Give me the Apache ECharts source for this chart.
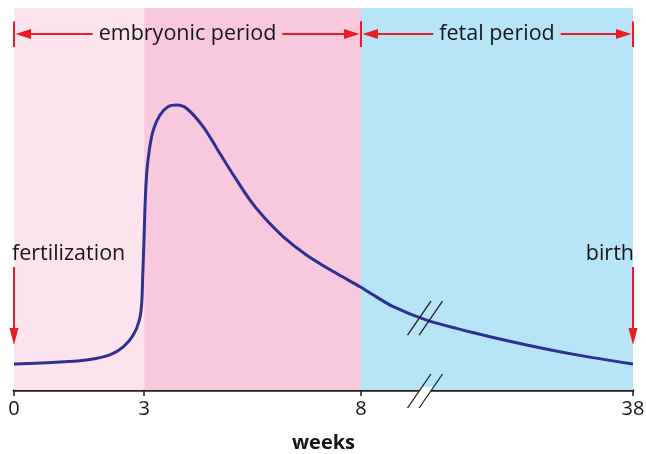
<!DOCTYPE html>
<html><head><meta charset="utf-8">
<script src="https://cdn.jsdelivr.net/npm/echarts@6/dist/echarts.min.js"></script>
<style>html,body{margin:0;padding:0;background:#fff}#c{width:646px;height:454px}</style>
</head><body><div id="c"></div>
<script>
// ---- data (weeks, relative level) ----
const weeks = [0, 1.06, 1.75, 2.21, 2.52, 2.75, 2.89, 2.944, 2.967, 2.997, 3.02, 3.059, 3.119, 3.212, 3.366, 3.557, 3.751, 3.982, 4.364, 4.673, 5.056, 5.441, 5.748, 6.209, 6.749, 7.361, 8.0, 9.0, 11.56, 15.24, 20.76, 26.28, 31.8, 38];
const level = [6.8, 7.3, 8.0, 9.2, 11.3, 14.4, 18.3, 22.7, 29.7, 39.3, 48.0, 56.7, 62.8, 68.1, 72.0, 74.2, 74.6, 73.7, 68.9, 63.3, 56.3, 49.7, 45.4, 40.1, 35.3, 31.0, 26.9, 25.4, 21.8, 18.3, 14.8, 11.8, 9.2, 6.8];
const tickWeeks = [0, 3, 8, 38];
const bandFrom = [0, 3, 8];
const bandTo = [3, 8, 38];
const bandColors = ['#fce4ef', '#f8c8de', '#b8e4f8'];
const periodNames = ['embryonic period', 'fetal period'];
const periodFrom = [0, 8];
const periodTo = [8, 38];
const eventNames = ['fertilization', 'birth'];
const eventWeeks = [0, 38];
const breakWeek = 15.06;
const breakLevel = 18.8;
const bracketLevel = 93.2;
const eventArrowTop = 32.2;
const eventArrowTip = 11.8;

// broken scale: weeks 0-8 linear, 8-38 compressed
const LINEAR_END = 8;
const COMPRESS = 0.209;
function toDisplay(w) { return w <= LINEAR_END ? w : LINEAR_END + (w - LINEAR_END) * COMPRESS; }
const xMax = toDisplay(38);

const chart = echarts.init(document.getElementById('c'), null, { renderer: 'canvas' });
const FONT = '"Open Sans", "Noto Sans", sans-serif';
const TXT = '#161616';
const RED = '#ed1c24';

const tickDisplay = tickWeeks.map(toDisplay);

chart.setOption({
  animation: false,
  grid: { left: 14, right: 13, top: 8, bottom: 64, outerBoundsMode: 'none', containLabel: false },
  xAxis: {
    type: 'value', min: 0, max: xMax,
    name: 'weeks', nameLocation: 'middle', nameGap: 43,
    nameTextStyle: { fontFamily: FONT, fontSize: 20, fontWeight: 'bold', color: TXT },
    axisLine: { show: true, lineStyle: { color: '#231f20', width: 2.5 } },
    axisTick: { show: true, customValues: tickDisplay, length: 6, lineStyle: { color: '#231f20', width: 1.5 } },
    axisLabel: {
      customValues: tickDisplay, margin: 9, fontFamily: FONT, fontSize: 20, color: TXT,
      formatter: v => { let best = 0; tickDisplay.forEach((d, i) => { if (Math.abs(d - v) < Math.abs(tickDisplay[best] - v)) best = i; }); return String(tickWeeks[best]); }
    },
    splitLine: { show: false }
  },
  yAxis: { type: 'value', min: 0, max: 100, show: false },
  series: [{
    type: 'line',
    data: weeks.map((w, i) => [toDisplay(w), level[i]]),
    smooth: 0.3, symbol: 'none',
    lineStyle: { color: '#2e3192', width: 3 },
    z: 5,
    markArea: {
      silent: true,
      data: bandFrom.map((f, i) => [{ xAxis: toDisplay(f), itemStyle: { color: bandColors[i] } }, { xAxis: toDisplay(bandTo[i]) }])
    }
  }]
});

const mctx = document.createElement('canvas').getContext('2d');
function measure(t, size) { mctx.font = size + 'px ' + FONT; return mctx.measureText(t).width; }
function seg(x1, y1, x2, y2, color, w) { return { type: 'line', z: 100, shape: { x1, y1, x2, y2 }, style: { stroke: color, lineWidth: w } }; }
function poly(pts, color) { return { type: 'polygon', z: 100, shape: { points: pts }, style: { fill: color } }; }

function buildGraphics() {
  const P = (x, y) => chart.convertToPixel({ gridIndex: 0 }, [x, y]);
  const g = [];
  const fs = 21.5;
  periodNames.forEach((name, i) => {
    const [x0, y] = P(toDisplay(periodFrom[i]), bracketLevel);
    const [x1] = P(toDisplay(periodTo[i]), bracketLevel);
    const cx = (x0 + x1) / 2;
    const w = measure(name, fs);
    g.push(seg(x0, y - 12.5, x0, y + 13, RED, 2));
    g.push(seg(x1, y - 12.5, x1, y + 13, RED, 2));
    g.push(seg(x0 + 10, y, cx - w / 2 - 6, y, RED, 2));
    g.push(seg(cx + w / 2 + 6, y, x1 - 10, y, RED, 2));
    g.push(poly([[x0 + 1.5, y], [x0 + 17, y - 5], [x0 + 17, y + 5]], RED));
    g.push(poly([[x1 - 1.5, y], [x1 - 17, y - 5], [x1 - 17, y + 5]], RED));
    g.push({ type: 'text', z: 100, style: { text: name, x: cx, y: y, align: 'center', verticalAlign: 'middle', font: fs + 'px ' + FONT, fill: TXT } });
  });
  eventNames.forEach((name, i) => {
    const [x, yTop] = P(toDisplay(eventWeeks[i]), eventArrowTop);
    const [, yTip] = P(toDisplay(eventWeeks[i]), eventArrowTip);
    g.push(seg(x, yTop, x, yTip - 10, RED, 2));
    g.push(poly([[x, yTip], [x - 4.5, yTip - 17], [x + 4.5, yTip - 17]], RED));
    const left = i === 0;
    g.push({ type: 'text', z: 100, style: { text: name, x: left ? x - 2 : x + 1, y: yTop - 13, align: left ? 'left' : 'right', verticalAlign: 'middle', font: fs + 'px ' + FONT, fill: TXT } });
  });
  // break marks on curve and axis
  const [bx, by] = P(toDisplay(breakWeek), breakLevel);
  const [, ay] = P(toDisplay(breakWeek), 0);
  const axisY = ay + 1;
  const a = 11.7 * 4 / 17;
  g.push(poly([[bx - 5.8 + a, axisY - 4], [bx + 5.8 + a, axisY - 4], [bx + 5.8 - a, axisY + 4], [bx - 5.8 - a, axisY + 4]], '#ffffff'));
  [by, axisY].forEach(cy => {
    [-5.8, 5.8].forEach(dx => {
      g.push(seg(bx + dx + 11.7, cy - 17, bx + dx - 11.7, cy + 17, '#231f20', 1.3));
    });
  });
  chart.setOption({ graphic: { elements: g } });
}
buildGraphics();
</script>
</body></html>
